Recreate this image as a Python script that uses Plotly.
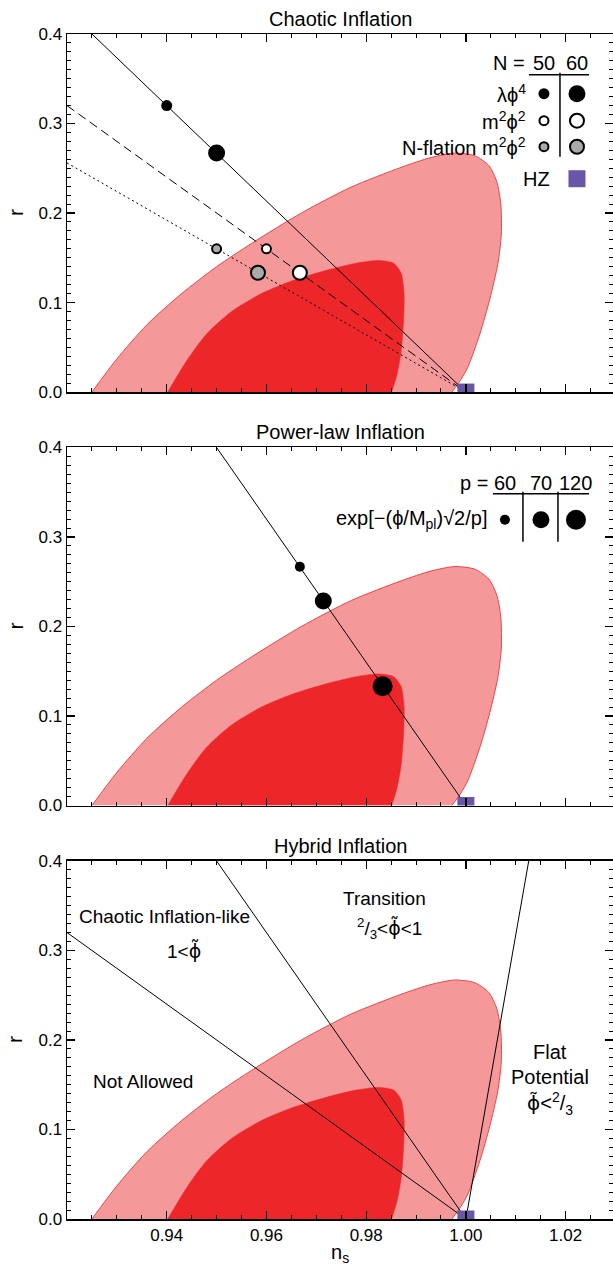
import plotly.graph_objects as go

# ---------------- data ----------------
# WMAP-style 95% (outer) and 68% (inner) regions in the (n_s, r) plane
c95_ns = [0.9250, 0.9300, 0.9360, 0.9430, 0.9500, 0.9570, 0.9670, 0.9770, 0.9870, 0.9930,
          0.9978, 1.0018, 1.0046, 1.0062, 1.0070, 1.0071, 1.0064, 1.0048, 1.0028,
          1.0004, 0.9990, 0.9972]
c95_r = [0.000, 0.037, 0.075, 0.110, 0.140, 0.166, 0.200, 0.229, 0.251, 0.262,
         0.267, 0.264, 0.253, 0.235, 0.210, 0.176, 0.143, 0.104, 0.065,
         0.028, 0.014, 0.000]
c68_ns = [0.9402, 0.9440, 0.9480, 0.9530, 0.9590, 0.9650, 0.9720, 0.9780, 0.9825, 0.9855,
          0.9870, 0.9876, 0.9875, 0.9870, 0.9862, 0.9851]
c68_r = [0.000, 0.035, 0.065, 0.090, 0.110, 0.124, 0.136, 0.144, 0.147, 0.144,
         0.133, 0.110, 0.080, 0.045, 0.020, 0.000]

# Chaotic inflation
lphi4_line_ns = [0.925, 1.0];  lphi4_line_r = [0.40, 0.0]
m2phi2_line_ns = [0.92, 1.0];  m2phi2_line_r = [0.32, 0.0]
nflat_line_ns = [0.92, 1.0];   nflat_line_r = [0.256, 0.0]
lphi4_ns = [0.940, 0.950];     lphi4_r = [0.320, 0.267]      # N = 50, 60
m2phi2_ns = [0.960, 0.9667];   m2phi2_r = [0.160, 0.1333]
nflat_ns = [0.950, 0.9583];    nflat_r = [0.160, 0.1333]
hz_ns = [1.0]; hz_r = [0.0]
N_labels = ["50", "60"]

# Power-law inflation
pl_line_ns = [0.95, 1.0];      pl_line_r = [0.40, 0.0]
pl_ns = [0.9667, 0.9714, 0.9833]; pl_r = [0.2667, 0.2286, 0.1333]   # p = 60, 70, 120
p_labels = ["60", "70", "120"]

# Hybrid inflation boundaries
hy1_ns = [0.92, 1.0];   hy1_r = [0.32, 0.0]
hy2_ns = [0.95, 1.0];   hy2_r = [0.40, 0.0]
hy3_ns = [1.0, 1.0126]; hy3_r = [0.0, 0.40]

titles = ["Chaotic Inflation", "Power-law Inflation", "Hybrid Inflation"]
y_ticks = [0.0, 0.1, 0.2, 0.3, 0.4]
y_ticktext = ["0.0", "0.1", "0.2", "0.3", "0.4"]
x_ticks = [0.94, 0.96, 0.98, 1.00, 1.02]
x_ticktext = ["0.94", "0.96", "0.98", "1.00", "1.02"]

# ---------------- layout geometry ----------------
W, H = 613, 1264
L, T = 67.3, 34.3
PH = 358.0           # panel height in px
STEP = 413.4         # top-to-top spacing
BOT = T + 2 * STEP + PH
B = H - BOT
XR = [0.92, 1.0295]
PW = W - L
FONT = "Liberation Sans, Arial, Helvetica, sans-serif"
TFONT = 20   # text font size
PHI_T = '<span style="font-family:DejaVu Sans">ϕ̃</span>'

OUTER_FILL = "rgb(244,152,154)"
OUTER_LINE = "rgb(238,68,68)"
INNER_FILL = "rgb(237,38,42)"
HZ_COL = "rgb(106,86,166)"

total = BOT - T
domains = []
for i in range(3):
    top = i * STEP
    bot = top + PH
    domains.append([1 - bot / total, 1 - top / total])


def px2d(px, py, i):
    """pixel position -> data coords of panel i (for key layout)"""
    top = T + i * STEP
    ns = XR[0] + (px - L) / PW * (XR[1] - XR[0])
    r = (top + PH - py) / PH * 0.4
    return ns, r


fig = go.Figure()


def add(tr, i):
    tr.update(xaxis="x" if i == 0 else f"x{i+1}", yaxis="y" if i == 0 else f"y{i+1}",
              showlegend=False, hoverinfo="skip", opacity=1)
    fig.add_trace(tr)


def mk(color, size, lw=0, symbol="circle"):
    return dict(color=color, size=size, opacity=1, symbol=symbol,
                line=dict(color="black", width=lw))


for i in range(3):
    add(go.Scatter(x=c95_ns, y=c95_r, mode="lines", fill="toself", fillcolor=OUTER_FILL,
                   line=dict(color=OUTER_LINE, width=1, shape="spline", smoothing=0.7)), i)
    add(go.Scatter(x=c68_ns, y=c68_r, mode="lines", fill="toself", fillcolor=INNER_FILL,
                   line=dict(color=INNER_FILL, width=0.5, shape="spline", smoothing=0.7)), i)

# ---- panel 1 ----
add(go.Scatter(x=lphi4_line_ns, y=lphi4_line_r, mode="lines", line=dict(color="black", width=1)), 0)
add(go.Scatter(x=m2phi2_line_ns, y=m2phi2_line_r, mode="lines",
               line=dict(color="black", width=1, dash="9px,5px")), 0)
add(go.Scatter(x=nflat_line_ns, y=nflat_line_r, mode="lines",
               line=dict(color="black", width=1, dash="2px,3px")), 0)
add(go.Scatter(x=lphi4_ns, y=lphi4_r, mode="markers", marker=mk("black", [11, 17])), 0)
add(go.Scatter(x=m2phi2_ns, y=m2phi2_r, mode="markers", marker=mk("white", [9, 14], 2)), 0)
add(go.Scatter(x=nflat_ns, y=nflat_r, mode="markers", marker=mk("rgb(170,170,170)", [9, 14], 2)), 0)

# ---- panel 2 ----
add(go.Scatter(x=pl_line_ns, y=pl_line_r, mode="lines", line=dict(color="black", width=1)), 1)
add(go.Scatter(x=pl_ns, y=pl_r, mode="markers", marker=mk("black", [10, 17, 20])), 1)

# ---- panel 3 ----
for xs, ys in [(hy1_ns, hy1_r), (hy2_ns, hy2_r), (hy3_ns, hy3_r)]:
    add(go.Scatter(x=xs, y=ys, mode="lines", line=dict(color="black", width=1)), 2)

# HZ squares
for i in range(3):
    add(go.Scatter(x=hz_ns, y=hz_r, mode="markers", cliponaxis=True,
                   marker=mk(HZ_COL, 17, 0, "square")), i)

annotations = []
shapes = []


def ann(text, px, py, i, xanchor="center", size=TFONT):
    x, y = px2d(px, py, i)
    annotations.append(dict(text=text, x=x, y=y, xref="x" if i == 0 else f"x{i+1}",
                            yref="y" if i == 0 else f"y{i+1}", showarrow=False,
                            xanchor=xanchor, yanchor="middle",
                            font=dict(size=size, color="black", family=FONT)))


def seg(px0, py0, px1, py1, i):
    x0, y0 = px2d(px0, py0, i)
    x1, y1 = px2d(px1, py1, i)
    shapes.append(dict(type="line", x0=x0, y0=y0, x1=x1, y1=y1,
                       xref="x" if i == 0 else f"x{i+1}", yref="y" if i == 0 else f"y{i+1}",
                       line=dict(color="black", width=1.5)))


# ---- panel 1 key ----
ann("N =", 527, 63, 0, xanchor="right")
ann(N_labels[0], 544, 63, 0)
ann(N_labels[1], 577, 63, 0)
seg(529, 75, 589, 75, 0)
seg(560, 73, 560, 157, 0)
ann("λϕ<sup>4</sup>", 528, 94, 0, xanchor="right")
ann("m<sup>2</sup>ϕ<sup>2</sup>", 528, 121, 0, xanchor="right")
ann("N-flation m<sup>2</sup>ϕ<sup>2</sup>", 528, 147, 0, xanchor="right")
ann("HZ", 552, 179, 0, xanchor="right")
kx = [px2d(544, 0, 0)[0], px2d(577, 0, 0)[0]]
ky = [px2d(0, 94, 0)[1], px2d(0, 121, 0)[1], px2d(0, 147, 0)[1], px2d(0, 179, 0)[1]]
add(go.Scatter(x=kx, y=[ky[0]] * 2, mode="markers", marker=mk("black", [11, 17])), 0)
add(go.Scatter(x=kx, y=[ky[1]] * 2, mode="markers", marker=mk("white", [9, 14], 2)), 0)
add(go.Scatter(x=kx, y=[ky[2]] * 2, mode="markers", marker=mk("rgb(170,170,170)", [9, 14], 2)), 0)
add(go.Scatter(x=[kx[1]], y=[ky[3]], mode="markers", marker=mk(HZ_COL, 17, 0, "square")), 0)

# ---- panel 2 key ----
ann("p =", 490, 483, 1, xanchor="right")
for lab, px in zip(p_labels, [505, 541, 576]):
    ann(lab, px, 483, 1)
seg(493, 494, 589, 494, 1)
seg(523, 492, 523, 542, 1)
seg(558, 492, 558, 542, 1)
ann("exp[−(ϕ/M<sub>pl</sub>)√2/p]", 489, 520, 1, xanchor="right")
pkx = [px2d(p, 0, 1)[0] for p in [505, 541, 576]]
pky = px2d(0, 520, 1)[1]
add(go.Scatter(x=pkx, y=[pky] * 3, mode="markers", marker=mk("black", [10, 17, 20])), 1)

# ---- panel 3 region labels ----
ann("Chaotic Inflation-like", 165, 917, 2, size=19)
ann("1&lt;" + PHI_T, 184, 950, 2, size=19)
ann("Transition", 385, 899, 2, size=19)
ann("<sup>2</sup>/<sub>3</sub>&lt;" + PHI_T + "&lt;1", 390, 929, 2, size=19)
ann("Not Allowed", 143, 1082, 2, size=19)
ann("Flat", 550, 1052, 2, size=20)
ann("Potential", 550, 1077, 2, size=20)
ann(PHI_T + "&lt;<sup>2</sup>/<sub>3</sub>", 550, 1104, 2, size=20)

# panel titles and axis titles
for i in range(3):
    sfx = "" if i == 0 else str(i + 1)
    annotations.append(dict(text=titles[i], xref=f"x{sfx} domain", yref=f"y{sfx} domain",
                            x=0.5, y=1, xanchor="center", yanchor="bottom", yshift=2,
                            showarrow=False, font=dict(size=20, color="black", family=FONT)))
    annotations.append(dict(text="r", xref=f"x{sfx} domain", yref=f"y{sfx} domain",
                            x=0, y=0.5, xanchor="center", yanchor="middle", xshift=-52,
                            textangle=-90, showarrow=False,
                            font=dict(size=21, color="black", family=FONT)))
annotations.append(dict(text="n<sub>s</sub>", xref="x3 domain", yref="y3 domain", x=0.5, y=0,
                        xanchor="center", yanchor="top", yshift=-20, showarrow=False,
                        font=dict(size=20, color="black", family=FONT)))

axis_common = dict(showline=True, linecolor="black", linewidth=1.5, mirror="ticks",
                   ticks="inside", tickcolor="black", tickwidth=1.2, showgrid=False,
                   zeroline=False, automargin=False,
                   tickfont=dict(size=17, color="black", family=FONT))

layout = dict(width=W, height=H, template="none", paper_bgcolor="white", plot_bgcolor="white",
              margin=dict(l=L, r=0, t=T, b=B, autoexpand=False),
              font=dict(family=FONT, color="black"),
              annotations=annotations, shapes=shapes, showlegend=False)

for i in range(3):
    sfx = "" if i == 0 else str(i + 1)
    layout[f"xaxis{sfx}"] = dict(axis_common, range=XR, domain=[0, 1], anchor=f"y{sfx}",
                                 tickmode="array", tickvals=x_ticks, ticktext=x_ticktext,
                                 ticklen=8, showticklabels=(i == 2),
                                 minor=dict(tickmode="linear", tick0=0.92, dtick=0.005,
                                            ticks="inside", ticklen=4, tickcolor="black",
                                            tickwidth=1, showgrid=False))
    layout[f"yaxis{sfx}"] = dict(axis_common, range=[0, 0.4], domain=domains[i], anchor=f"x{sfx}",
                                 tickmode="array", tickvals=y_ticks, ticktext=y_ticktext,
                                 ticklen=8,
                                 minor=dict(tickmode="linear", tick0=0, dtick=0.01,
                                            ticks="inside", ticklen=4, tickcolor="black",
                                            tickwidth=1, showgrid=False))

fig.update_layout(**layout)
fig.write_html("out.html", config={"displayModeBar": False, "staticPlot": True},
               post_script="document.body.style.margin='0';document.body.style.padding='0';"
                           "document.body.style.overflow='hidden';")
